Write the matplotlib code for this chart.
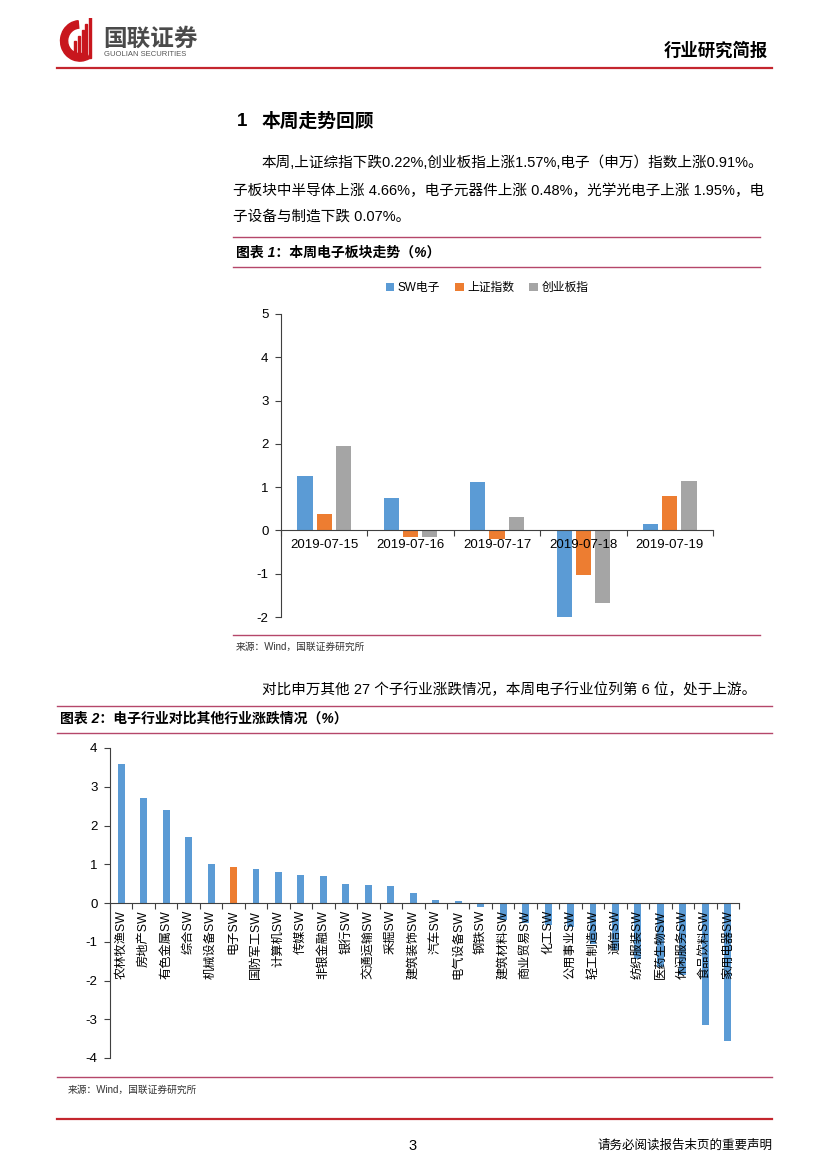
import numpy as np
import matplotlib
matplotlib.use("Agg")
import matplotlib.pyplot as plt
from matplotlib.lines import Line2D
from matplotlib.patches import Wedge, Rectangle

plt.rcParams['font.family'] = ['Liberation Sans', 'Noto Sans CJK SC']
plt.rcParams['axes.unicode_minus'] = False

# chart 1: daily change of the indices this week (%)
dates = ['2019-07-15', '2019-07-16', '2019-07-17', '2019-07-18', '2019-07-19']
sw_elec = [1.26, 0.76, 1.12, -2.02, 0.15]
sh_index = [0.39, -0.15, -0.19, -1.04, 0.79]
chinext = [1.94, -0.15, 0.32, -1.67, 1.15]
series_names = ['SW电子', '上证指数', '创业板指']

# chart 2: weekly change of SW level-1 industries (%)
industries = ['农林牧渔SW', '房地产SW', '有色金属SW', '综合SW', '机械设备SW', '电子SW',
              '国防军工SW', '计算机SW', '传媒SW', '非银金融SW', '银行SW', '交通运输SW',
              '采掘SW', '建筑装饰SW', '汽车SW', '电气设备SW', '钢铁SW', '建筑材料SW',
              '商业贸易SW', '化工SW', '公用事业SW', '轻工制造SW', '通信SW', '纺织服装SW',
              '医药生物SW', '休闲服务SW', '食品饮料SW', '家用电器SW']
ind_change = [3.60, 2.71, 2.41, 1.70, 1.00, 0.92, 0.89, 0.81, 0.71, 0.70, 0.48, 0.47,
              0.45, 0.27, 0.07, 0.04, -0.11, -0.45, -0.52, -0.57, -0.62, -1.05, -1.22,
              -1.45, -1.65, -1.87, -3.16, -3.55]

BLUE, ORANGE, GREY = '#5B9BD5', '#ED7D31', '#A5A5A5'
RED, PINK = '#C4262E', '#B5476A'
AXC = '#404040'

W, H = 827, 1169
fig = plt.figure(figsize=(8.27, 11.69), dpi=100)


def fx(x):
    return x / W


def fy(y):
    return 1 - y / H


def hline(y, x0, x1, color, lw):
    fig.add_artist(Line2D([fx(x0), fx(x1)], [fy(y), fy(y)], color=color, lw=lw))


def box(l, t, r, b):
    return [fx(l), fy(b), fx(r) - fx(l), fy(t) - fy(b)]


def txt(x, y, s, size, **kw):
    kw.setdefault('va', 'center')
    fig.text(fx(x), fy(y), s, fontsize=size, **kw)


############ page header ############
lax = fig.add_axes(box(58, 18, 100, 62))
lax.set_xlim(0, 1)
lax.set_ylim(0, 1)
lax.axis('off')
lax.add_patch(Wedge((0.52, 0.48), 0.46, 95, 300, width=0.17, color='#C8161D'))
for i, hgt in enumerate([0.38, 0.5, 0.62, 0.76, 0.92]):
    lax.add_patch(Rectangle((0.38 + i * 0.09, 0.1), 0.05, hgt, color='#C8161D'))
txt(103, 39, '国联证券', 17, weight='bold', color='#4a4a4a')
txt(104, 55, 'GUOLIAN SECURITIES', 5.5, color='#555555')
txt(768, 50, '行业研究简报', 12.5, weight='bold', ha='right')
hline(68, 57, 772, RED, 1.6)

############ section text ############
txt(237, 122, '1', 13.5, weight='bold')
txt(262, 122, '本周走势回顾', 13.5, weight='bold')
txt(262, 163, '本周,上证综指下跌0.22%,创业板指上涨1.57%,电子（申万）指数上涨0.91%。', 10.5)
txt(233, 191, '子板块中半导体上涨 4.66%，电子元器件上涨 0.48%，光学光电子上涨 1.95%，电', 10.5)
txt(233, 217, '子设备与制造下跌 0.07%。', 10.5)

hline(237, 233, 760, PINK, 1.0)
txt(236, 253, '图表 1：本周电子板块走势（%）', 10, weight='bold', style='italic')
hline(267, 233, 760, PINK, 1.0)

############ chart 1 ############
ax1 = fig.add_axes(box(281, 314, 713, 617))
ax1.set_axisbelow(False)
x = np.arange(len(dates))
bw, step = 0.175, 0.222
for k, (vals, col) in enumerate(zip([sw_elec, sh_index, chinext], [BLUE, ORANGE, GREY])):
    ax1.bar(x + (k - 1) * step, vals, bw, color=col, label=series_names[k], zorder=2)
ax1.set_xlim(-0.5, len(dates) - 0.5)
ax1.set_ylim(-2, 5)
ax1.set_yticks(range(-2, 6))
ax1.spines[['top', 'right']].set_visible(False)
ax1.spines['bottom'].set_position(('data', 0))
ax1.spines['bottom'].set_color(AXC)
ax1.spines['left'].set_color(AXC)
ax1.set_xticks(np.arange(-0.5, len(dates), 1))
ax1.set_xticklabels([])
ax1.set_xticks(x, minor=True)
ax1.set_xticklabels(dates, minor=True)
ax1.tick_params(axis='x', which='major', length=4, color=AXC)
ax1.tick_params(axis='x', which='minor', length=0, pad=6, labelsize=9.5)
ax1.tick_params(axis='y', length=4, color=AXC, labelsize=9.5, pad=5)
ax1.legend(loc='center', bbox_to_anchor=(fx(487), fy(288)), bbox_transform=fig.transFigure,
           ncol=3, frameon=False, fontsize=8.5, handlelength=0.7, handleheight=0.7,
           handletextpad=0.3, columnspacing=1.3)

hline(635, 233, 760, PINK, 1.0)
txt(236, 647, '来源：Wind，国联证券研究所', 7, color='#333333')

############ chart 2 ############
txt(262, 690, '对比申万其他 27 个子行业涨跌情况，本周电子行业位列第 6 位，处于上游。', 10.5)
hline(706, 57, 772, PINK, 1.0)
txt(60, 719, '图表 2：电子行业对比其他行业涨跌情况（%）', 10, weight='bold', style='italic')
hline(733, 57, 772, PINK, 1.0)

ax2 = fig.add_axes(box(110, 748, 739, 1058))
ax2.set_axisbelow(False)
xi = np.arange(len(industries))
colors = [ORANGE if n == '电子SW' else BLUE for n in industries]
ax2.bar(xi, ind_change, 0.31, color=colors, zorder=2)
ax2.set_xlim(-0.5, len(industries) - 0.5)
ax2.set_ylim(-4, 4)
ax2.set_yticks(range(-4, 5))
ax2.spines[['top', 'right']].set_visible(False)
ax2.spines['bottom'].set_position(('data', 0))
ax2.spines['bottom'].set_color(AXC)
ax2.spines['left'].set_color(AXC)
ax2.set_xticks(np.arange(-0.5, len(industries), 1))
ax2.set_xticklabels([])
ax2.set_xticks(xi, minor=True)
ax2.set_xticklabels(industries, minor=True, rotation=90)
ax2.tick_params(axis='x', which='major', length=4, color=AXC)
ax2.tick_params(axis='x', which='minor', length=0, pad=5, labelsize=8.8)
ax2.tick_params(axis='y', length=4, color=AXC, labelsize=9.5, pad=5)

hline(1077, 57, 772, PINK, 1.0)
txt(68, 1090, '来源：Wind，国联证券研究所', 7, color='#333333')

############ page footer ############
hline(1119, 57, 772, RED, 1.6)
txt(413, 1146, '3', 10.5, ha='center')
txt(772, 1146, '请务必阅读报告末页的重要声明', 9, ha='right')

fig.savefig('out.png', dpi=100)
